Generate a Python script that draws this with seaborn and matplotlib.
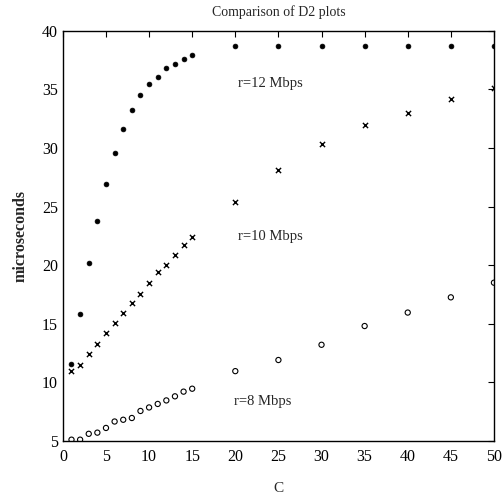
import numpy as np
import pandas as pd
import matplotlib
matplotlib.use("Agg")
import matplotlib.pyplot as plt
import seaborn as sns

# data
C = [1, 2, 3, 4, 5, 6, 7, 8, 9, 10, 11, 12, 13, 14, 15, 20, 25, 30, 35, 40, 45, 50]
r12 = [11.6, 15.8, 20.2, 23.8, 26.9, 29.6, 31.6, 33.2, 34.5, 35.5, 36.1, 36.8, 37.2, 37.6, 37.9,
       38.7, 38.7, 38.7, 38.7, 38.7, 38.7, 38.7]
r10 = [11.0, 11.5, 12.4, 13.3, 14.2, 15.1, 15.9, 16.8, 17.5, 18.5, 19.4, 20.0, 20.9, 21.7, 22.4,
       25.4, 28.1, 30.3, 31.95, 33.0, 34.2, 35.1]
r8 = [5.1, 5.1, 5.6, 5.7, 6.1, 6.65, 6.8, 6.95, 7.55, 7.85, 8.15, 8.45, 8.8, 9.2, 9.45,
      10.95, 11.9, 13.2, 14.8, 15.95, 17.25, 18.5]

labels = ["r=12 Mbps", "r=10 Mbps", "r=8 Mbps"]
label_pos = [(20.3, 35.5), (20.3, 22.4), (19.8, 8.4)]

df = pd.DataFrame({"C": C, "r12": r12, "r10": r10, "r8": r8})

sns.set_style("white")
plt.rcParams['font.family'] = ['Liberation Serif', 'DejaVu Serif']

fig = plt.figure(figsize=(5.03, 4.97), dpi=100)
ax = fig.add_axes([0.125, 0.113, 0.857, 0.825])

sns.scatterplot(data=df, x="C", y="r12", ax=ax, marker="o", s=12, color="black",
                edgecolor="black", linewidth=0.5)
sns.scatterplot(data=df, x="C", y="r10", ax=ax, marker="x", s=14, color="black",
                linewidth=1.0)
ax.scatter(df["C"], df["r8"], marker="o", s=14, facecolors="none",
           edgecolors="black", linewidths=0.8)

for txt, (tx, ty) in zip(labels, label_pos):
    ax.text(tx, ty, txt, fontsize=10.5, va="center", ha="left")

ax.set_xlim(0, 50)
ax.set_ylim(5, 40)
ax.set_xticks(np.arange(0, 51, 5))
ax.set_yticks(np.arange(5, 41, 5))
ax.tick_params(direction="in", top=True, right=True, length=4, width=0.8,
               labelsize=11.5, colors="black")
ax.tick_params(axis="x", pad=6)
for sp in ax.spines.values():
    sp.set_color("black")
    sp.set_linewidth(1.0)

ax.set_title("Comparison of D2 plots", fontsize=10, pad=11)
ax.set_xlabel("C", fontsize=11, labelpad=12)
ax.set_ylabel("microseconds", fontsize=11.5, fontweight="bold", labelpad=10)

fig.savefig("out.png", dpi=100)
